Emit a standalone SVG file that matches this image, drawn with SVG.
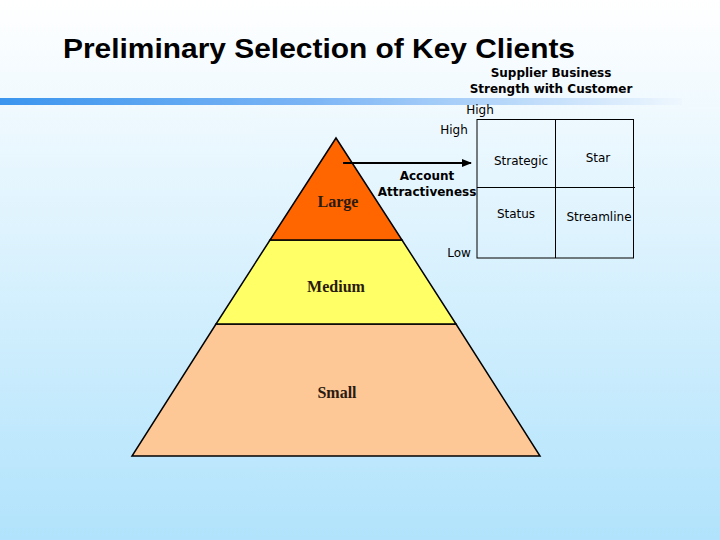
<svg xmlns="http://www.w3.org/2000/svg" width="720" height="540" viewBox="0 0 720 540">
<defs>
<linearGradient id="bg" x1="0" y1="0" x2="0" y2="1">
<stop offset="0" stop-color="#ffffff"/>
<stop offset="1" stop-color="#b1e3fc"/>
</linearGradient>
<linearGradient id="bar" x1="0" y1="0" x2="1" y2="0">
<stop offset="0" stop-color="#3b95ee"/>
<stop offset="0.45" stop-color="#7ab4f5"/>
<stop offset="1" stop-color="#eef7fe"/>
</linearGradient>
<marker id="ah" markerWidth="10" markerHeight="8" refX="9" refY="4" orient="auto" markerUnits="userSpaceOnUse">
<path d="M0,0 L10,4 L0,8 Z" fill="#000"/>
</marker>
<style>
.layer{stroke:#000;stroke-width:1.5}
.lbl{font-family:"Liberation Serif","Times New Roman",serif;font-weight:bold;font-size:16px;fill:#2a1a10;text-anchor:middle}
.sm{font-family:"DejaVu Sans",Verdana,sans-serif;font-size:12px;fill:#000}
.smb{font-family:"DejaVu Sans",Verdana,sans-serif;font-size:12px;font-weight:bold;fill:#000;text-anchor:middle}
.grid{stroke:#000;stroke-width:1;fill:none}
</style>
</defs>
<rect width="720" height="540" fill="url(#bg)"/>
<rect x="0" y="98" width="682" height="7" fill="url(#bar)"/>
<text x="63" y="58" font-family="'Liberation Sans',Arial,sans-serif" font-size="27" font-weight="bold" fill="#000" textLength="512" lengthAdjust="spacingAndGlyphs">Preliminary Selection of Key Clients</text>

<g id="pyramid-small">
<polygon class="layer" points="216,324 456,324 540,456 132,456" fill="#fdc896"/>
<text class="lbl" x="337" y="398">Small</text>
</g>
<g id="pyramid-medium">
<polygon class="layer" points="270,240 402,240 456,324 216,324" fill="#ffff66"/>
<text class="lbl" x="336" y="292">Medium</text>
</g>
<g id="pyramid-large">
<polygon class="layer" points="336,138 402,240 270,240" fill="#ff6600"/>
<text class="lbl" x="338" y="207">Large</text>
</g>

<g id="matrix">
<rect class="grid" x="477" y="119.5" width="156.5" height="138.5"/>
<line class="grid" x1="555.5" y1="119.5" x2="555.5" y2="258"/>
<line class="grid" x1="477" y1="187.5" x2="635" y2="187.5"/>
<text class="sm" x="521" y="165" text-anchor="middle">Strategic</text>
<text class="sm" x="598" y="162" text-anchor="middle">Star</text>
<text class="sm" x="516" y="218" text-anchor="middle">Status</text>
<text class="sm" x="599" y="221" text-anchor="middle">Streamline</text>
<text class="sm" x="454" y="134" text-anchor="middle">High</text>
<text class="sm" x="459" y="257" text-anchor="middle">Low</text>
<text class="sm" x="480" y="114" text-anchor="middle">High</text>
<text class="smb" x="551" y="77">Supplier Business</text>
<text class="smb" x="551" y="93">Strength with Customer</text>
</g>

<g id="connectors">
<line x1="343" y1="163" x2="471" y2="163" stroke="#000" stroke-width="2" marker-end="url(#ah)"/>
<text class="smb" x="427" y="180">Account</text>
<text class="smb" x="427" y="196">Attractiveness</text>
</g>
</svg>
